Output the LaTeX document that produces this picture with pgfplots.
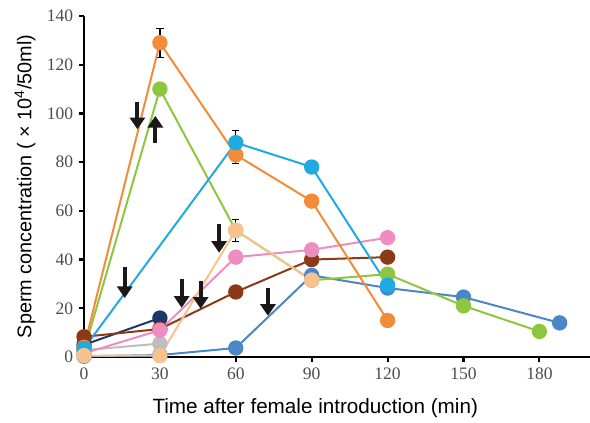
\documentclass[border=0pt]{standalone}
\usepackage{fontspec}
\setmainfont{Liberation Serif}
\setsansfont{Liberation Sans}
\usepackage{pgfplots}
\pgfplotsset{compat=1.18}
\usetikzlibrary{arrows.meta,calc}

\definecolor{corange}{RGB}{242,140,56}
\definecolor{cgreen}{RGB}{141,198,63}
\definecolor{clblue}{RGB}{33,169,225}
\definecolor{cmblue}{RGB}{74,134,200}
\definecolor{cnavy}{RGB}{28,56,104}
\definecolor{cbrown}{RGB}{139,58,23}
\definecolor{cpink}{RGB}{238,141,191}
\definecolor{cgray}{RGB}{190,190,190}
\definecolor{cpeach}{RGB}{246,195,143}

\begin{document}
\begin{tikzpicture}
\begin{axis}[
    scale only axis,
    width=303.6pt, height=204.6pt,
    xmin=0, xmax=200, ymin=0, ymax=140,
    axis lines=left,
    axis line style={-, line width=1.7pt},
    xtick={0,30,...,180},
    ytick={0,20,...,140},
    tick align=outside,
    major tick length=3pt,
    tick style={black, line width=1.3pt},
    tick label style={font=\fontsize{10.5}{12}\selectfont, text=black!70},
    /pgf/number format/assume math mode=true,
    label style={font=\sffamily\fontsize{12.4}{14}\selectfont},
    xlabel={Time after female introduction (min)},
    xlabel style={at={(axis description cs:0.457,0)}, anchor=north, inner sep=0pt, yshift=-25pt},
    ylabel={Sperm concentration ( × 10\textsuperscript{4}/50ml)},
    ylabel style={font=\sffamily\fontsize{11.9}{14}\selectfont},
    clip=false,
    every axis plot/.append style={line width=1.2pt, mark=*, mark size=4pt},
]
% error bars first, so the markers sit on top
\addplot[draw=none, mark=none, forget plot,
    error bars/.cd, y dir=both, y explicit,
    error bar style={black, line width=0.8pt},
    error mark options={black, rotate=90, mark size=2.2pt, line width=0.8pt}]
    coordinates {
    (30,129) +- (0,6)
    (60,83) +- (0,3.5)
    (60,88) +- (0,5)
    (60,52) +- (0,4.5)
    (120,49) +- (0,2)
    (150,21) +- (0,2)
    (150,25) +- (0,1.5)
    (90,32) +- (0,1.5)
    };

% medium blue
\addplot[cmblue, mark options={fill=cmblue}] coordinates {
    (0,0.3) (30,0.8) (60,3.7) (90,33.5) (120,28.3) (150,24.6) (188,14)};
% navy
\addplot[cnavy, mark options={fill=cnavy}] coordinates {
    (0,5) (30,16)};
% brown
\addplot[cbrown, mark options={fill=cbrown}] coordinates {
    (0,8.3) (30,11.5) (60,26.7) (90,40) (120,41)};
% gray
\addplot[cgray, mark options={fill=cgray}] coordinates {
    (0,2.8) (30,5.5)};
% pink
\addplot[cpink, mark options={fill=cpink}] coordinates {
    (0,1.5) (30,11) (60,41) (90,44) (120,49)};
% green
\addplot[cgreen, mark options={fill=cgreen}] coordinates {
    (0,2.5) (30,110) (60,52) (90,31.5) (120,34) (150,21) (180,10.5)};
% orange
\addplot[corange, mark options={fill=corange}] coordinates {
    (0,4) (30,129) (60,83) (90,64) (120,15)};
% light blue
\addplot[clblue, mark options={fill=clblue}] coordinates {
    (0,3.5) (60,88) (90,78) (120,29.5)};
% peach
\addplot[cpeach, mark options={fill=cpeach}] coordinates {
    (0,0.6) (30,0.5) (60,52) (90,31.6)};

% arrows
\tikzset{garrow/.style={black!90, line width=2.3pt, -{Triangle[length=7pt, width=9pt]}}}
\draw[garrow] (axis cs:21.1,104.7) -- (axis cs:21.1,93.5);
\draw[garrow] (axis cs:28.2,87.8) -- (axis cs:28.2,99);
\draw[garrow] (axis cs:16.1,36.9) -- (axis cs:16.1,24.2);
\draw[garrow] (axis cs:38.6,32) -- (axis cs:38.6,20.2);
\draw[garrow] (axis cs:46.1,31) -- (axis cs:46.1,19.8);
\draw[garrow] (axis cs:53.4,54.6) -- (axis cs:53.4,42.8);
\draw[garrow] (axis cs:72.7,28.5) -- (axis cs:72.7,16.9);
\end{axis}
\pgfresetboundingbox
\path ($(current axis.south west)+(-50.4pt,-39.6pt)$) rectangle ($(current axis.north east)+(0pt,9.6pt)$);
\end{tikzpicture}
\end{document}
